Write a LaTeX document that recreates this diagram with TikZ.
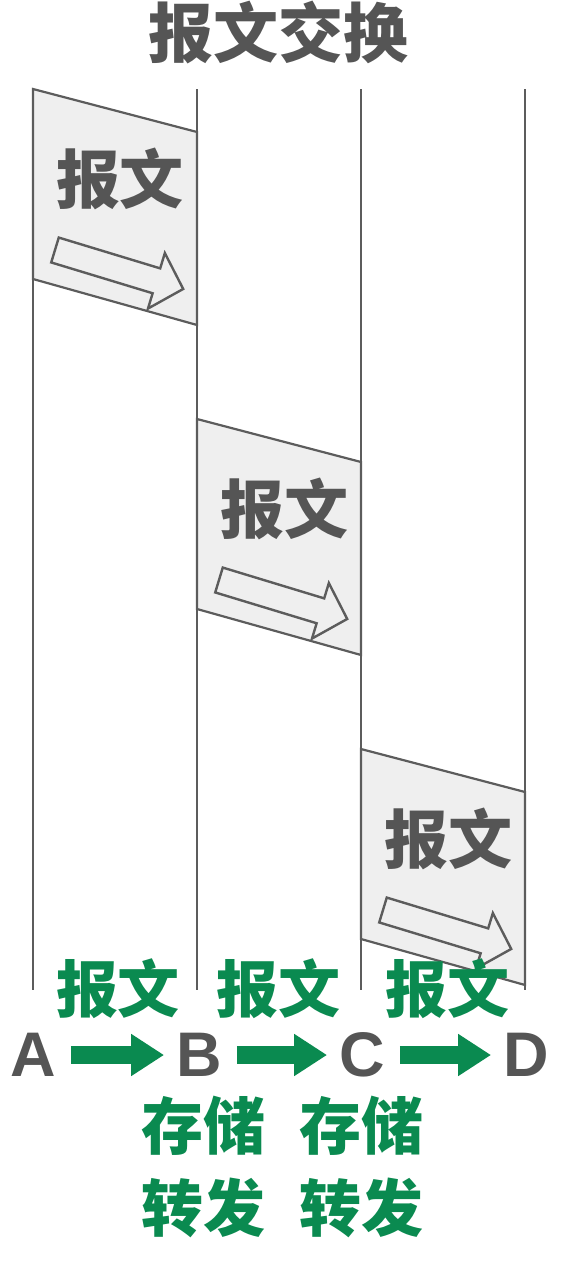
\documentclass[tikz,border=0pt]{standalone}
\usepackage{fontspec}
\setmainfont{Liberation Sans}
\newfontfamily\cjk{Noto Sans CJK SC}
\usetikzlibrary{arrows.meta}
\definecolor{grn}{HTML}{0A8A50}
\definecolor{txtgray}{HTML}{555555}
\definecolor{linegray}{HTML}{5C5C5C}
\definecolor{pktfill}{HTML}{EFEFEF}
\tikzset{
  lifeline/.style={draw=linegray, line width=2.2pt},
  packet/.style={draw=linegray, fill=pktfill, line width=2.2pt, line join=miter},
  hollow/.style={draw=linegray, fill=pktfill, line width=2.4pt, line join=miter},
  titletext/.style={text=txtgray, inner sep=0pt, font=\cjk\bfseries\fontsize{65}{65}\selectfont},
  pkttext/.style={text=txtgray, inner sep=0pt, font=\cjk\bfseries\fontsize{64}{64}\selectfont},
  gtext/.style={text=grn, inner sep=0pt, font=\cjk\bfseries\fontsize{62}{62}\selectfont},
  letter/.style={text=txtgray, inner sep=0pt, font=\bfseries\fontsize{63}{63}\selectfont},
  garrow/.style={draw=grn, line width=18pt, -{Triangle[length=33pt,width=40pt]}, shorten <=15pt, shorten >=12pt}
}
\begin{document}
\begin{tikzpicture}[x=1pt,y=-1pt]
\useasboundingbox (0,0) rectangle (576,1262);
% title
\node[titletext] (title) at (278,33) {报文交换};
% lifelines
\draw[lifeline] (33,89) -- (33,990);
\draw[lifeline] (197,89) -- (197,990);
\draw[lifeline] (361,89) -- (361,990);
\draw[lifeline] (525,89) -- (525,990);
% packets
\foreach \i/\dx/\dy in {1/0/0, 2/164/330, 3/328/660}{
  \begin{scope}[shift={(\dx,\dy)}]
    \draw[packet] (33,89) -- (197,132) -- (197,325) -- (33,279) -- cycle;
    \node[pkttext] (pkt\i) at (120,179) {报文};
    \begin{scope}[shift={(55,250)}, rotate=-16.9]
      \draw[hollow] (0,-13) -- (106,-13) -- (106,-29) -- (134,0) -- (106,29) -- (106,13) -- (0,13) -- cycle;
    \end{scope}
  \end{scope}
}
% green labels
\node[gtext] (m1) at (118,989) {报文};
\node[gtext] (m2) at (278,989) {报文};
\node[gtext] (m3) at (447,989) {报文};
% letters
\node[letter] (A) at (33,1055) {A};
\node[letter] (B) at (199,1055) {B};
\node[letter] (C) at (362,1055) {C};
\node[letter] (D) at (526,1055) {D};
\draw[garrow] (A) -- (B);
\draw[garrow] (B) -- (C);
\draw[garrow] (C) -- (D);
% store and forward
\node[gtext] (s1) at (203,1126) {存储};
\node[gtext] (s2) at (361,1126) {存储};
\node[gtext] (f1) at (203,1208) {转发};
\node[gtext] (f2) at (361,1208) {转发};
\end{tikzpicture}
\end{document}
